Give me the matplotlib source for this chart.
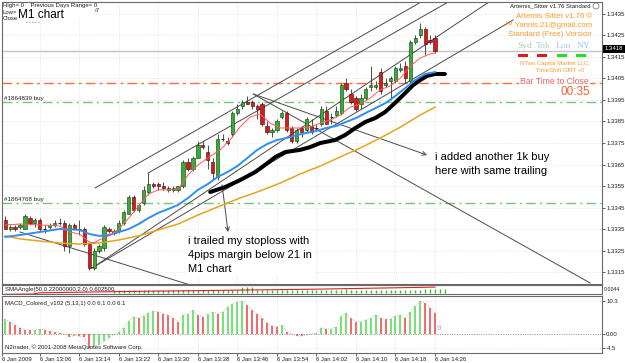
import matplotlib
matplotlib.use('Agg')
import matplotlib.pyplot as plt
from matplotlib.patches import Rectangle, Ellipse
import numpy as np

plt.rcParams['font.family'] = ['Liberation Sans', 'DejaVu Sans']

# ---------------- data ----------------
opens = [1.3339, 1.3335, 1.3336, 1.3336, 1.3335, 1.3340, 1.3338, 1.3339, 1.3335, 1.3336,
         1.3337, 1.3338, 1.3338, 1.3327, 1.3337, 1.3335, 1.3335, 1.3328, 1.3317, 1.3325,
         1.3326, 1.3335, 1.3333, 1.3334, 1.3338, 1.3342, 1.3350, 1.3344, 1.3347, 1.3352,
         1.3356, 1.3356, 1.3355, 1.3353, 1.3353, 1.3353, 1.3355, 1.3366, 1.3363, 1.3368,
         1.3374, 1.3371, 1.3366, 1.3359, 1.3377, 1.3376, 1.3379, 1.3389, 1.3392, 1.3394,
         1.3394, 1.3392, 1.3393, 1.3383, 1.3380, 1.3381, 1.3387, 1.3389, 1.3382, 1.3376,
         1.3382, 1.3381, 1.3383, 1.3382, 1.3384, 1.3390, 1.3387, 1.3388, 1.3389, 1.3403,
         1.3398, 1.3396, 1.3393, 1.3396, 1.3401, 1.3401, 1.3408, 1.3402, 1.3404, 1.3404,
         1.3409, 1.3411, 1.3404, 1.3422, 1.3425, 1.3428, 1.3423, 1.3424]
highs = [1.3341, 1.3337, 1.3337, 1.3338, 1.3342, 1.3341, 1.3340, 1.3340, 1.3337, 1.3338,
         1.3339, 1.3340, 1.3339, 1.3338, 1.3338, 1.3339, 1.3336, 1.3329, 1.3326, 1.3328,
         1.3337, 1.3336, 1.3335, 1.3339, 1.3344, 1.3351, 1.3351, 1.3347, 1.3355, 1.3361,
         1.3357, 1.3357, 1.3357, 1.3355, 1.3355, 1.3355, 1.3367, 1.3368, 1.3369, 1.3376,
         1.3376, 1.3374, 1.3368, 1.3379, 1.3379, 1.3378, 1.3390, 1.3393, 1.3395, 1.3397,
         1.3395, 1.3393, 1.3394, 1.3385, 1.3382, 1.3386, 1.3390, 1.3390, 1.3383, 1.3382,
         1.3383, 1.3387, 1.3386, 1.3384, 1.3392, 1.3392, 1.3389, 1.3392, 1.3403, 1.3405,
         1.3400, 1.3397, 1.3398, 1.3401, 1.3411, 1.3404, 1.3410, 1.3405, 1.3406, 1.3411,
         1.3412, 1.3413, 1.3423, 1.3425, 1.3431, 1.3429, 1.3425, 1.3425]
lows = [1.3335, 1.3334, 1.3334, 1.3335, 1.3335, 1.3337, 1.3336, 1.3334, 1.3333, 1.3335,
        1.3336, 1.3337, 1.3325, 1.3324, 1.3335, 1.3332, 1.3327, 1.3316, 1.3316, 1.3324,
        1.3325, 1.3333, 1.3332, 1.3333, 1.3337, 1.3342, 1.3343, 1.3343, 1.3346, 1.3351,
        1.3354, 1.3353, 1.3353, 1.3352, 1.3352, 1.3352, 1.3354, 1.3362, 1.3362, 1.3368,
        1.3372, 1.3363, 1.3358, 1.3358, 1.3376, 1.3374, 1.3378, 1.3388, 1.3391, 1.3393,
        1.3391, 1.3386, 1.3383, 1.3379, 1.3378, 1.3380, 1.3386, 1.3380, 1.3375, 1.3375,
        1.3378, 1.3380, 1.3379, 1.3381, 1.3383, 1.3384, 1.3384, 1.3387, 1.3388, 1.3399,
        1.3393, 1.3390, 1.3391, 1.3395, 1.3399, 1.3400, 1.3398, 1.3401, 1.3395, 1.3403,
        1.3408, 1.3403, 1.3403, 1.3421, 1.3424, 1.3416, 1.3421, 1.3417]
closes = [1.3335, 1.3336, 1.3335, 1.3337, 1.3341, 1.3338, 1.3339, 1.3335, 1.3335, 1.3337,
          1.3338, 1.3338, 1.3327, 1.3337, 1.3335, 1.3335, 1.3328, 1.3317, 1.3325, 1.3327,
          1.3336, 1.3334, 1.3334, 1.3338, 1.3343, 1.3350, 1.3344, 1.3346, 1.3353, 1.3356,
          1.3355, 1.3355, 1.3354, 1.3354, 1.3354, 1.3355, 1.3366, 1.3363, 1.3368, 1.3374,
          1.3373, 1.3367, 1.3361, 1.3377, 1.3377, 1.3375, 1.3389, 1.3391, 1.3394, 1.3393,
          1.3392, 1.3391, 1.3384, 1.3380, 1.3381, 1.3385, 1.3389, 1.3381, 1.3376, 1.3381,
          1.3380, 1.3386, 1.3380, 1.3382, 1.3391, 1.3384, 1.3387, 1.3390, 1.3402, 1.3400,
          1.3394, 1.3391, 1.3396, 1.3400, 1.3402, 1.3402, 1.3399, 1.3403, 1.3405, 1.3410,
          1.3410, 1.3405, 1.3422, 1.3424, 1.3428, 1.3421, 1.3422, 1.3418]

# moving averages: (bar index, price)
red_ma_x = [0, 3, 7, 11, 13, 15, 17, 18, 19, 21, 23, 25, 27, 29, 31, 33, 35, 37, 39, 41, 43.5,
            45.5, 47.5, 49.6, 51.6, 53.6, 55.7, 57.7, 59.7, 61.7, 63.8, 65.8, 67.8, 69.8, 71.9,
            73.9, 75.9, 77.9, 80, 82, 84, 86, 87]
red_ma_y = [1.33369, 1.33373, 1.33369, 1.33364, 1.33336, 1.33327, 1.33290, 1.33285, 1.33299,
            1.33318, 1.33350, 1.33401, 1.33457, 1.33513, 1.33532, 1.33532, 1.33536, 1.33601,
            1.33648, 1.33680, 1.33718, 1.33764, 1.33824, 1.33871, 1.33885, 1.33843, 1.33820,
            1.33820, 1.33820, 1.33824, 1.33843, 1.33857, 1.33880, 1.33917, 1.33931, 1.33959,
            1.33997, 1.34015, 1.34052, 1.34108, 1.34145, 1.34164, 1.34169]
blue_ma_x = [0, 3, 7, 11, 15, 17, 19, 21, 23, 25, 27, 29, 31, 33, 35, 37, 39, 41, 43, 45, 47,
             49, 51, 53, 55, 57, 59, 61, 63, 65, 67, 69, 71, 73, 75, 77, 79, 81, 83, 85, 87]
blue_ma_y = [1.33313, 1.33322, 1.33336, 1.33350, 1.33346, 1.33327, 1.33318, 1.33322, 1.33336,
             1.33350, 1.33373, 1.33401, 1.33425, 1.33443, 1.33462, 1.33494, 1.33532, 1.33559,
             1.33592, 1.33615, 1.33643, 1.33680, 1.33718, 1.33745, 1.33764, 1.33773, 1.33787,
             1.33797, 1.33806, 1.33820, 1.33829, 1.33848, 1.33866, 1.33890, 1.33913, 1.33936,
             1.33969, 1.34006, 1.34043, 1.34071, 1.34080]
black_ma_x = [41.5, 44.5, 47.6, 50.6, 52.6, 54.7, 56.7, 59.7, 61.7, 63.8, 66.8, 68.8, 70.9,
              72.9, 74.9, 76.9, 78.9, 81, 82.6, 84, 85.4, 87, 89]
black_ma_y = [1.33522, 1.33545, 1.33578, 1.33615, 1.33648, 1.33685, 1.33708, 1.33718, 1.33731,
              1.33750, 1.33764, 1.33787, 1.33820, 1.33848, 1.33866, 1.33894, 1.33936, 1.33983,
              1.34020, 1.34043, 1.34062, 1.34071, 1.34071]
orange_ma_x = [0, 3, 7, 11, 15, 19, 23, 27, 31, 35, 39, 43.5, 47.5, 51.6, 55.7, 59.7, 63.8,
               67.8, 71.9, 75.9, 80, 84, 87]
orange_ma_y = [1.33318, 1.33304, 1.33294, 1.33285, 1.33280, 1.33285, 1.33299, 1.33318, 1.33346,
               1.33373, 1.33415, 1.33457, 1.33494, 1.33527, 1.33564, 1.33606, 1.33643, 1.33685,
               1.33727, 1.33773, 1.33824, 1.33880, 1.33917]

macd = [4.6, 3.6, 2.8, 2.0, 1.4, 1.2, 1.3, 1.5, 1.2, 0.8,
        0.5, 0.3, 0.1, -0.8, -0.5, -0.7, -1.0, -4.3, -3.8, -3.4,
        -2.2, -1.2, -0.3, 0.6, 2.0, 4.0, 5.4, 4.9, 5.6, 6.5,
        7.2, 6.9, 6.4, 5.9, 4.9, 3.9, 5.8, 6.4, 7.4, 5.9,
        5.4, 6.3, 6.9, 6.4, 6.9, 8.4, 9.4, 10.0, 10.2, 9.0,
        7.5, 6.4, 4.9, 3.4, 2.6, 2.3, 2.8, 0.7, 0.0, -0.5,
        -0.7, -0.3, 0.1, 0.2, 2.0, 1.6, 1.6, 2.3, 5.6, 6.6,
        4.9, 3.9, 3.9, 4.4, 4.9, 6.0, 4.9, 4.6, 4.6, 5.6,
        5.8, 4.9, 7.0, 8.6, 10.2, 9.7, 8.1, 6.6]

sma_hist = [0] * 22 + [2.5, 2.5, 2.5, 2.5, 3, 3, 3, 2.5, 2.5, 2.5, 2.5, 2.5, 2.5, 2.5, 2.5,
                       2.5, 2.5, 2.5, 2.5, 2.5, 2.5, 2.5, 2.5, 2.5, 2.5, 2.5, 6, 6, 5.5,
                       3, 3, 3, 3, 3, 3, 3, 3, 3, 3, 3, 3, 3, 3, 3, 3, 3, 3, 4, 3,
                       3, 3, 3, 3, 3, 3, 3, 3, 3, 3, 3, 3, 3, 3, 4, 4, 4, 4, 4]
sma_line_x = [0, 5.7, 7, 24.7, 63.8, 87]
sma_line_y = [-1.5, -1.2, 0.0, 1.3, 3.7, 5.7]

price_ticks = [1.3315, 1.3325, 1.3335, 1.3345, 1.3355, 1.3365, 1.3375, 1.3385,
               1.3395, 1.3405, 1.3415, 1.3425, 1.3435]
time_tick_bars = [-0.6, 7, 15, 23, 31, 39, 47, 55, 63, 71, 79, 87]
time_labels = ['6 Jan 2009', '6 Jan 13:06', '6 Jan 13:14', '6 Jan 13:22', '6 Jan 13:30',
               '6 Jan 13:38', '6 Jan 13:46', '6 Jan 13:54', '6 Jan 14:02', '6 Jan 14:10',
               '6 Jan 14:18', '6 Jan 14:26']
macd_ticks = [10.3, 0.0, -4.5]
macd_tick_labels = ['10.3', '0.00', '-4.5']

order_levels = [1.3394, 1.3347]
order_labels = ['#1864839 buy', '#1864768 buy']
close_timer_level = 1.3403
bid_price = 1.3418

# trend lines: (x0, y0, x1, y1) in (bar index, price)
trend_lines = [
    (17.6, 1.33169, 110.0, 1.34592),
    (17.6, 1.33169, 102.8, 1.34322),
    (18.2, 1.33541, 110.0, 1.34744),
    (28.9, 1.33610, 110.0, 1.34672),
    (50.2, 1.33978, 118.4, 1.33099),
    (3.0, 1.33336, 37.4, 1.33090),
]
arrow_lines = [
    (50.2, 1.33978, 85.4, 1.33694),
    (43.9, 1.33555, 45.1, 1.33336),
]

# ---------------- figure ----------------
W, H = 625, 363
fig = plt.figure(figsize=(W / 100, H / 100), dpi=100)
fig.patch.set_facecolor('white')


def add_axes_px(x0, y0, x1, y1):
    return fig.add_axes([x0 / W, 1 - y1 / H, (x1 - x0) / W, (y1 - y0) / H])


def ftext(x, y, s, **kw):
    kw.setdefault('va', 'center')
    return fig.text(x / W, 1 - y / H, s, **kw)


def frect(x0, y0, x1, y1, color, z=5):
    r = Rectangle((x0 / W, 1 - y1 / H), (x1 - x0) / W, (y1 - y0) / H,
                  transform=fig.transFigure, facecolor=color, edgecolor='none', zorder=z)
    fig.add_artist(r)


ax = add_axes_px(2, 2, 602, 284)
ax_s = add_axes_px(2, 285, 602, 294)
ax_m = add_axes_px(2, 296, 602, 353)

XMIN, XMAX = -0.65, 120.8
for a in (ax, ax_s, ax_m):
    a.set_xlim(XMIN, XMAX)
    a.set_facecolor('white')
    for sp in a.spines.values():
        sp.set_color('#6a6a6a')
        sp.set_linewidth(0.8)

grid_kw = dict(color='#d4d4d4', linestyle=(0, (1, 2)), linewidth=0.5)

# main panel
ax.set_ylim(1.330942, 1.344058)
ax.yaxis.tick_right()
ax.set_yticks(price_ticks)
ax.set_yticklabels([f'{p:.4f}' for p in price_ticks])
ax.tick_params(axis='y', right=True, left=False, labelsize=4.3, length=2, width=0.5,
               pad=1, colors='#202020')
ax.set_xticks(time_tick_bars[1:])
ax.tick_params(axis='x', bottom=False, labelbottom=False)
ax.grid(True, **grid_kw)
ax.set_axisbelow(True)

for lvl in order_levels:
    ax.axhline(lvl, color='#77c477', lw=1.0, ls=(0, (7, 3, 1.5, 3)), zorder=1)
for lvl, lab in zip(order_levels, order_labels):
    ax.text(-0.3, lvl + 0.00019, lab, fontsize=4.5, color='#202020', va='center', ha='left')
ax.axhline(close_timer_level, color='#ff6a40', lw=1.0, ls=(0, (7, 3, 2, 3)), zorder=1)
ax.axhline(bid_price, color='#c4c4c4', lw=1.0, zorder=1)

for (x0, y0, x1, y1) in trend_lines:
    ax.plot([x0, x1], [y0, y1], color='#4e4a46', lw=0.7, zorder=2)
for (x0, y0, x1, y1) in arrow_lines:
    ax.annotate('', xy=(x1, y1), xytext=(x0, y0),
                arrowprops=dict(arrowstyle='->', color='#4e4a46', lw=0.7,
                                mutation_scale=7, shrinkA=0, shrinkB=0), zorder=2)

# candles
for i, (o, h, l, c) in enumerate(zip(opens, highs, lows, closes)):
    ax.vlines(i, l, h, color='#333333', lw=0.6, zorder=3)
    if abs(c - o) < 1e-9:
        ax.hlines(o, i - 0.33, i + 0.33, color='#202020', lw=0.8, zorder=4)
        continue
    if c > o:
        face, edge = '#36ad36', '#0c3a0c'
    else:
        face, edge = '#d41c1c', '#4a0000'
    ax.add_patch(Rectangle((i - 0.33, min(o, c)), 0.66, abs(c - o), facecolor=face,
                           edgecolor=edge, lw=0.4, zorder=4))

ax.plot(orange_ma_x, orange_ma_y, color='#e6a31c', lw=1.1, zorder=5)
ax.plot(black_ma_x, black_ma_y, color='#000000', lw=2.9, zorder=5, solid_capstyle='round')
ax.plot(blue_ma_x, blue_ma_y, color='#2f8ff0', lw=1.4, zorder=5)
ax.plot(red_ma_x, red_ma_y, color='#ff5a5a', lw=0.7, zorder=6)

# SMA angle panel
ax_s.set_ylim(-1.2, 7.8)
ax_s.set_yticks([])
ax_s.set_xticks([])
ax_s.vlines(range(len(sma_hist)), 0, sma_hist, color='#30c030', lw=1.0)
ax_s.plot(sma_line_x, sma_line_y, color='#e02020', lw=0.8)

# MACD panel
ax_m.set_ylim(-5.94, 11.875)
ax_m.yaxis.tick_right()
ax_m.set_yticks(macd_ticks)
ax_m.set_yticklabels(macd_tick_labels)
ax_m.tick_params(axis='y', right=True, left=False, labelsize=4.3, length=2, width=0.5,
                 pad=1, colors='#202020')
ax_m.set_xticks(time_tick_bars)
ax_m.set_xticklabels(time_labels)
ax_m.tick_params(axis='x', bottom=True, labelbottom=True, labelsize=4.3, length=2,
                 width=0.5, pad=1, colors='#202020')
for lbl in ax_m.get_xticklabels():
    lbl.set_horizontalalignment('left')
ax_m.grid(True, **grid_kw)
ax_m.set_axisbelow(True)
ax_m.axhline(0, color='#a89080', lw=0.7, ls=(0, (1, 1.5)))
colors = []
for i, v in enumerate(macd):
    prev = macd[i - 1] if i > 0 else v
    colors.append('#4cdc4c' if v >= prev else '#ee4040')
ax_m.vlines(range(len(macd)), 0, macd, colors=colors, lw=1.1)
ax_m.plot(range(len(macd)), macd, color='#b0b0b0', lw=0.6, ls=(0, (1, 1.5)))

# ---------------- overlay texts ----------------
ftext(3, 5, 'High= 0    Previous Days Range= 0', fontsize=4.3, color='#202020')
ftext(3, 12, 'Low=', fontsize=4.3, color='#202020')
ftext(3, 19, 'Close', fontsize=4.3, color='#202020')
ftext(26, 23, '- - - - -', fontsize=3.6, color='#202020')
ftext(94, 11, 'ı7', fontsize=4.3, color='#202020')
frect(17, 8, 93, 20, 'white', z=4)
ftext(18, 14.5, 'M1 chart', fontsize=8.5, color='black', zorder=6)

ftext(188, 236, 'i trailed my stoploss with\n4pips margin below 21 in\nM1 chart',
      fontsize=8, va='top', linespacing=1.5, color='black',
      bbox=dict(facecolor='white', edgecolor='none', pad=1.5), zorder=7)
ftext(435, 152, 'i added another 1k buy\nhere with same trailing',
      fontsize=8, va='top', linespacing=1.5, color='black',
      bbox=dict(facecolor='white', edgecolor='none', pad=2.5), zorder=7)

orange = '#ff9a2a'
ftext(591, 6, 'Artemis_Sitter v1.76 Standard', fontsize=4.3, color='#202020', ha='right')
fig.add_artist(Ellipse((596 / W, 1 - 6 / H), 6 / W, 6 / H, transform=fig.transFigure,
                       facecolor='white', edgecolor='#808080', lw=0.6, zorder=6))
ftext(592, 16, 'Artemis Sitter v1.76 ©', fontsize=5.6, color=orange, ha='right')
ftext(592, 25, '™ Yannis.21@gmail.com', fontsize=5.6, color=orange, ha='right')
ftext(592, 35, 'Standard (Free) Version', fontsize=5.6, color=orange, ha='right')
sess = [('Syd', '#a9cfb0', 517), ('Tok', '#a9d2c6', 536), ('Lon', '#a8c6ee', 556),
        ('NY', '#a4bff2', 577)]
for s, c, x in sess:
    ftext(x, 46, s, fontsize=6.8, color=c, family='Liberation Serif')
for x0, c in [(518, '#e01818'), (537, '#e01818'), (557, '#22e022'), (576, '#22e022')]:
    frect(x0, 54, x0 + 10, 57, c, z=6)
ftext(590, 63, 'NTwo Capital Market LLC,', fontsize=4.3, color=orange, ha='right')
ftext(584, 71, 'TimeShift GMT +0', fontsize=4.3, color=orange, ha='right')
ftext(589, 81, 'Bar Time to Close', fontsize=6.2, color='#f06060', ha='right',
      bbox=dict(facecolor='white', edgecolor='none', pad=0.5), zorder=7)
ftext(590, 92, '00:35', fontsize=8.5, color='#ff6030', ha='right')

frect(603, 45, 625, 53, 'black', z=6)
ftext(605, 49, f'{bid_price:.4f}', fontsize=4.3, color='white', zorder=7)

ftext(5, 290, 'SMAAngle(50,0.22000000,2.0) 0.602500', fontsize=4.3, color='#202020', zorder=7)
ftext(604, 289.5, '0.0044', fontsize=3.8, color='#202020')
ftext(5, 303, 'MACD_Colored_v102 (5,13,1) 0.0 6.1 0.0 6.1', fontsize=4.3, color='#202020')
ftext(5, 347, 'N2trader, © 2001-2008 MetaQuotes Software Corp.', fontsize=4.3, color='#202020')
ftext(437, 328, '9', fontsize=6, color='#b0b0b0')

fig.savefig('out.png', dpi=100, facecolor='white')
